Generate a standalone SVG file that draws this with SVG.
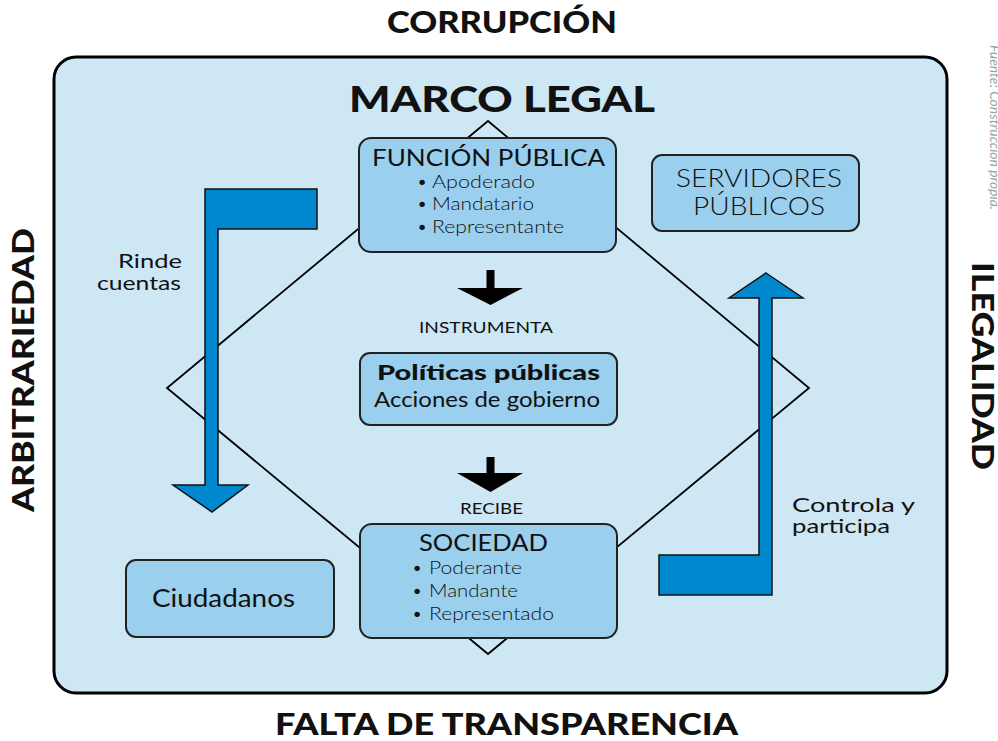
<svg xmlns="http://www.w3.org/2000/svg" width="998" height="741" viewBox="0 0 998 741">
<style>
.t{font-family:Lato,"Open Sans","Liberation Sans",sans-serif;fill:#111}
.big{font-weight:900;font-size:31px}
.box{fill:#9acfee;stroke:#222;stroke-width:2}
.blue{fill:#0088cf;stroke:#111;stroke-width:1.5;stroke-linejoin:miter}
.lbl{font-size:20px}
.bul{font-size:18.5px;font-weight:300}
</style>
<rect width="998" height="741" fill="#fff"/>
<text class="t big" x="502" y="33" text-anchor="middle" textLength="230" lengthAdjust="spacingAndGlyphs">CORRUPCIÓN</text>
<text class="t big" x="506.5" y="735" text-anchor="middle" textLength="463" lengthAdjust="spacingAndGlyphs">FALTA DE TRANSPARENCIA</text>
<text class="t big" transform="translate(34,370) rotate(-90)" text-anchor="middle" textLength="284" lengthAdjust="spacingAndGlyphs">ARBITRARIEDAD</text>
<text class="t big" transform="translate(972,366) rotate(90)" text-anchor="middle" textLength="208" lengthAdjust="spacingAndGlyphs">ILEGALIDAD</text>
<text transform="translate(990,45) rotate(90)" font-family="Lato,'Liberation Sans',sans-serif" font-size="13" font-style="italic" fill="#a0a0a0" textLength="165" lengthAdjust="spacingAndGlyphs">Fuente: Construcción propia.</text>
<rect x="54" y="57" width="893" height="636" rx="22" fill="#cde7f5" stroke="#000" stroke-width="3"/>
<text class="t" x="502" y="112" text-anchor="middle" font-size="36" font-weight="900" textLength="306" lengthAdjust="spacingAndGlyphs">MARCO LEGAL</text>
<g id="connectors">
<polygon points="488,121 809,388 488,654 167,388" fill="none" stroke="#000" stroke-width="1.8"/>
<polygon points="486.5,270 494.5,270 494.5,288 523,288 490.5,305 457,288 486.5,288" fill="#000"/>
<polygon points="486.5,457 494.5,457 494.5,473 523,473 490.5,492 457,473 486.5,473" fill="#000"/>
<polygon class="blue" points="205,189 317,189 317,229 218,229 218,485 248,485 212,512 173,485 205,485"/>
<polygon class="blue" points="766,273 803,298 772,298 772,595 659,595 659,555 759,555 759,298 729,298"/>
<text class="t" x="486" y="333" text-anchor="middle" font-size="16" textLength="134" lengthAdjust="spacingAndGlyphs">INSTRUMENTA</text>
<text class="t" x="491.5" y="514" text-anchor="middle" font-size="16" textLength="63" lengthAdjust="spacingAndGlyphs">RECIBE</text>
<text class="t lbl" x="150" y="268" text-anchor="middle" textLength="64" lengthAdjust="spacingAndGlyphs">Rinde</text>
<text class="t lbl" x="139" y="290" text-anchor="middle" textLength="84" lengthAdjust="spacingAndGlyphs">cuentas</text>
<text class="t lbl" x="792" y="512" textLength="123" lengthAdjust="spacingAndGlyphs">Controla y</text>
<text class="t lbl" x="792" y="533" textLength="98" lengthAdjust="spacingAndGlyphs">participa</text>
</g>
<g id="funcion">
<rect class="box" x="359" y="138" width="257" height="114" rx="12"/>
<text class="t" x="488.5" y="166" text-anchor="middle" font-size="24" textLength="233" lengthAdjust="spacingAndGlyphs">FUNCIÓN PÚBLICA</text>
<text class="t bul" x="422" y="188" text-anchor="middle" font-weight="700">•</text>
<text class="t bul" x="432" y="188" textLength="103" lengthAdjust="spacingAndGlyphs">Apoderado</text>
<text class="t bul" x="422" y="210" text-anchor="middle" font-weight="700">•</text>
<text class="t bul" x="432" y="210" textLength="102" lengthAdjust="spacingAndGlyphs">Mandatario</text>
<text class="t bul" x="422" y="233" text-anchor="middle" font-weight="700">•</text>
<text class="t bul" x="432" y="233" textLength="132" lengthAdjust="spacingAndGlyphs">Representante</text>
</g>
<g id="servidores">
<rect class="box" x="652" y="155" width="207" height="76" rx="10"/>
<text class="t" x="759" y="187" text-anchor="middle" font-size="25" font-weight="300" textLength="166" lengthAdjust="spacingAndGlyphs">SERVIDORES</text>
<text class="t" x="759" y="215" text-anchor="middle" font-size="25" font-weight="300" textLength="132" lengthAdjust="spacingAndGlyphs">PÚBLICOS</text>
</g>
<g id="politicas">
<rect class="box" x="360" y="353" width="257" height="72" rx="10"/>
<text class="t" x="488.5" y="380" text-anchor="middle" font-size="21" font-weight="900" textLength="223" lengthAdjust="spacingAndGlyphs">Políticas públicas</text>
<text class="t" x="487" y="407" text-anchor="middle" font-size="21" textLength="226" lengthAdjust="spacingAndGlyphs">Acciones de gobierno</text>
</g>
<g id="sociedad">
<rect class="box" x="360" y="524" width="257" height="114" rx="12"/>
<text class="t" x="483.5" y="551" text-anchor="middle" font-size="24" textLength="129" lengthAdjust="spacingAndGlyphs">SOCIEDAD</text>
<text class="t bul" x="417" y="574" text-anchor="middle" font-weight="700">•</text>
<text class="t bul" x="429" y="574" textLength="93" lengthAdjust="spacingAndGlyphs">Poderante</text>
<text class="t bul" x="417" y="597" text-anchor="middle" font-weight="700">•</text>
<text class="t bul" x="429" y="597" textLength="89" lengthAdjust="spacingAndGlyphs">Mandante</text>
<text class="t bul" x="417" y="620" text-anchor="middle" font-weight="700">•</text>
<text class="t bul" x="429" y="620" textLength="125" lengthAdjust="spacingAndGlyphs">Representado</text>
</g>
<g id="ciudadanos">
<rect class="box" x="126" y="560" width="208" height="77" rx="10"/>
<text class="t" x="223.5" y="607" text-anchor="middle" font-size="25" textLength="143" lengthAdjust="spacingAndGlyphs">Ciudadanos</text>
</g>
</svg>
